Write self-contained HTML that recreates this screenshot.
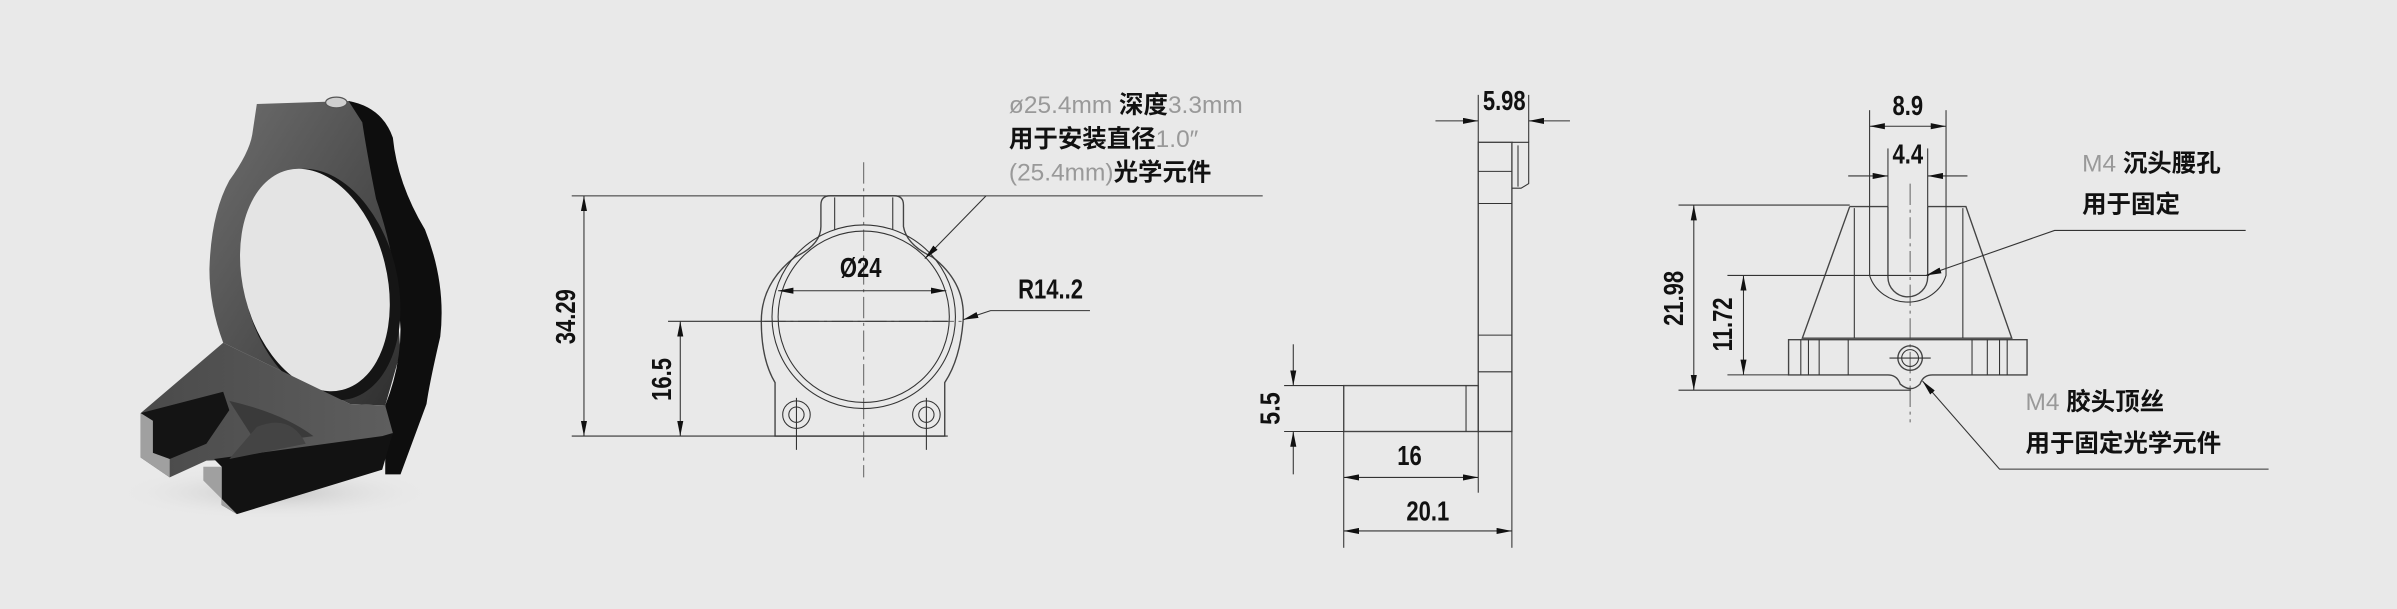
<!DOCTYPE html>
<html><head><meta charset="utf-8"><style>
html,body{margin:0;padding:0;background:#e9e9e9;}
svg{display:block}
.l{stroke:#333;stroke-width:0.7;fill:none}
.t{stroke:#444;stroke-width:0.9;fill:none}
.c{stroke:#555;stroke-width:0.6;fill:none;stroke-dasharray:14 3 2 3}
.d{font-family:"Liberation Sans Narrow","Liberation Sans",sans-serif;font-size:18px;fill:#111;font-weight:bold}
.z{font-family:"Liberation Sans","Noto Sans CJK SC",sans-serif;font-size:16px;fill:#111;font-weight:bold}
.g{fill:#999;font-weight:normal}
</style></head><body>
<svg width="2397" height="609" viewBox="0 0 1568 398" preserveAspectRatio="none" xmlns="http://www.w3.org/2000/svg">
<defs>
<marker id="a" viewBox="0 0 10 4" refX="10" refY="2" markerWidth="10" markerHeight="4" orient="auto-start-reverse" markerUnits="userSpaceOnUse"><path d="M0,0L10,2L0,4z" fill="#111"/></marker>
<radialGradient id="sh" cx="0.5" cy="0.5" r="0.5"><stop offset="0" stop-color="#c4c4c4"/><stop offset="1" stop-color="#e9e9e9" stop-opacity="0"/></radialGradient>
<linearGradient id="face" x1="0" y1="0" x2="1" y2="1"><stop offset="0" stop-color="#6e6e6e"/><stop offset="0.6" stop-color="#4a4a4a"/><stop offset="1" stop-color="#2e2e2e"/></linearGradient>
<linearGradient id="top" x1="0" y1="0" x2="1" y2="0"><stop offset="0" stop-color="#4a4a4a"/><stop offset="1" stop-color="#5e5e5e"/></linearGradient>
</defs>
<rect width="1568" height="398" fill="#e9e9e9"/>

<!-- photo -->
<ellipse cx="180" cy="322" rx="105" ry="18" fill="url(#sh)"/>
<path d="M168,68 L228,66 Q238,68 240,80 L256,150 L262,230 L252,265 L229,264 L146,224 Q137,200 137,176 Q138,140 150,118 Q163,100 165,88 Z" fill="url(#face)"/>
<path d="M228,66 Q250,70 257,90 Q260,120 278,150 Q292,185 288,220 Q281,250 279,264 L262,310 L252,310 L252,265 Q262,240 262,215 Q260,170 246,130 Q240,100 237,80 Z" fill="#0e0e0e"/>
<ellipse cx="210" cy="186" rx="50" ry="77" transform="rotate(-14 210 186)" fill="#151515"/>
<ellipse cx="206" cy="183" rx="47" ry="74" transform="rotate(-14 206 183)" fill="#e4e4e4"/>
<ellipse cx="220" cy="67" rx="7" ry="3.5" fill="#cfcfcf" stroke="#555" stroke-width="0.8"/>
<path d="M146,224 L229,264 L252,265 L257,283 L250,300 L168,300 L135,301 L111,312 L92,299 L92,270 Z" fill="url(#top)"/>
<path d="M150,262 Q185,270 205,285 L168,290 Z" fill="#3a3a3a"/>
<path d="M92,270 L146,256 L150,268 L135,290 L111,300 L100,296 L100,275 Z" fill="#141414"/>
<path d="M92,270 L100,275 L100,296 L111,300 L111,312 L92,299 Z" fill="#a0a0a0"/>
<path d="M140,300 L250,285 L257,283 L250,307 L155,336 L145,330 L145,305 Z" fill="#121212"/>
<path d="M133,305 L145,305 L145,330 L155,336 L133,314 Z" fill="#a0a0a0"/>
<path d="M168,279 Q190,270 200,290 L150,300 Z" fill="#444"/>

<!-- front view -->
<line class="c" x1="565" y1="106" x2="565" y2="312"/>
<line class="c" x1="500" y1="210" x2="630" y2="210"/>
<path class="t" d="M537,134 Q537,128 543,128 L585,128 Q591,128 591,134 L591,148 Q593,160 610,168 Q632,185 630,210 Q628,235 618,250 L618,285 L507,285 L507,250 Q498,235 498,210 Q498,185 520,168 Q537,160 537,148 Z"/>
<line class="l" x1="546" y1="129" x2="546" y2="150"/><line class="l" x1="584" y1="129" x2="584" y2="150"/>
<circle class="l" cx="565" cy="207" r="60"/>
<circle class="l" cx="565" cy="207" r="56"/>
<circle class="l" cx="521" cy="271" r="9"/><circle class="l" cx="521" cy="271" r="5"/>
<circle class="l" cx="606" cy="271" r="9"/><circle class="l" cx="606" cy="271" r="5"/>
<line class="l" x1="521" y1="260" x2="521" y2="294"/><line class="l" x1="606" y1="260" x2="606" y2="294"/>
<line class="l" x1="374" y1="128" x2="826" y2="128"/>
<line class="l" x1="374" y1="285" x2="620" y2="285"/>
<line class="l" x1="437" y1="210" x2="620" y2="210"/>
<line class="l" x1="382" y1="128" x2="382" y2="285" marker-start="url(#a)" marker-end="url(#a)"/>
<line class="l" x1="445" y1="210" x2="445" y2="285" marker-start="url(#a)" marker-end="url(#a)"/>
<line class="l" x1="509" y1="190" x2="619" y2="190" marker-start="url(#a)" marker-end="url(#a)"/>
<line class="l" x1="645" y1="128" x2="605" y2="169" marker-end="url(#a)"/>
<polyline class="l" points="713,203 648,203 630,209" marker-end="url(#a)"/>
<g transform="translate(563,181) scale(0.8,1)"><text class="d" text-anchor="middle">Ø24</text></g>
<g transform="translate(666,195) scale(0.8,1)"><text class="d">R14..2</text></g>
<g transform="translate(376,207) rotate(-90) scale(0.8,1)"><text class="d" text-anchor="middle">34.29</text></g>
<g transform="translate(439,248) rotate(-90) scale(0.8,1)"><text class="d" text-anchor="middle">16.5</text></g>
<text class="z" x="660" y="74"><tspan class="g">ø25.4mm</tspan>  深度<tspan class="g">3.3mm</tspan></text>
<text class="z" x="660" y="96">用于安装直径<tspan class="g">1.0″</tspan></text>
<text class="z" x="660" y="118"><tspan class="g">(25.4mm)</tspan>光学元件</text>

<!-- side view -->
<rect class="t" x="967" y="93" width="22" height="189"/>
<path class="l" d="M989,93 L1000,93 L1000,120 L995,123 L989,123"/>
<line class="l" x1="993" y1="95" x2="993" y2="122"/>
<line class="l" x1="967" y1="112" x2="989" y2="112"/><line class="l" x1="967" y1="133" x2="989" y2="133"/>
<line class="l" x1="967" y1="219" x2="989" y2="219"/><line class="l" x1="967" y1="243" x2="989" y2="243"/>
<rect class="t" x="879" y="252" width="88" height="30"/>
<line class="l" x1="959" y1="252" x2="959" y2="282"/>
<line class="l" x1="967" y1="62" x2="967" y2="93"/><line class="l" x1="1000" y1="62" x2="1000" y2="93"/>
<line class="l" x1="939" y1="79" x2="967" y2="79" marker-end="url(#a)"/>
<line class="l" x1="1027" y1="79" x2="1000" y2="79" marker-end="url(#a)"/>
<g transform="translate(984,72) scale(0.8,1)"><text class="d" text-anchor="middle">5.98</text></g>
<line class="l" x1="840" y1="252" x2="879" y2="252"/><line class="l" x1="840" y1="282" x2="879" y2="282"/>
<line class="l" x1="846" y1="225" x2="846" y2="252" marker-end="url(#a)"/>
<line class="l" x1="846" y1="310" x2="846" y2="282" marker-end="url(#a)"/>
<g transform="translate(837,267) rotate(-90) scale(0.85,1)"><text class="d" text-anchor="middle">5.5</text></g>
<line class="l" x1="879" y1="282" x2="879" y2="358"/>
<line class="l" x1="967" y1="282" x2="967" y2="322"/>
<line class="l" x1="989" y1="282" x2="989" y2="358"/>
<line class="l" x1="879" y1="312" x2="967" y2="312" marker-start="url(#a)" marker-end="url(#a)"/>
<line class="l" x1="879" y1="347" x2="989" y2="347" marker-start="url(#a)" marker-end="url(#a)"/>
<g transform="translate(922,304) scale(0.8,1)"><text class="d" text-anchor="middle">16</text></g>
<g transform="translate(934,340) scale(0.8,1)"><text class="d" text-anchor="middle">20.1</text></g>

<!-- right view -->
<line class="c" x1="1249.5" y1="120" x2="1249.5" y2="276"/>
<path class="t" d="M1210,135 L1235,135 M1261,135 L1286,135 L1316,221 L1179,221 L1210,135"/>
<line class="l" x1="1213" y1="136" x2="1213" y2="221"/><line class="l" x1="1284" y1="136" x2="1284" y2="221"/>
<path class="t" d="M1235,135 L1235,181 A13,13 0 0 0 1261,181 L1261,135"/>
<path class="l" d="M1223,135 L1223,180 A26,24 0 0 0 1273,180 L1273,135"/>
<path class="t" d="M1170,222 L1326,222 L1326,245 L1264,245 Q1258,245 1256,251 Q1250,257 1243,251 Q1241,245 1235,245 L1170,245 Z"/>
<line class="l" x1="1178" y1="222" x2="1178" y2="245"/><line class="l" x1="1183" y1="222" x2="1183" y2="245"/>
<line class="l" x1="1190" y1="222" x2="1190" y2="245"/><line class="l" x1="1308" y1="222" x2="1308" y2="245"/>
<line class="l" x1="1313" y1="222" x2="1313" y2="245"/><line class="l" x1="1300" y1="222" x2="1300" y2="245"/>
<line class="l" x1="1209" y1="222" x2="1209" y2="245"/><line class="l" x1="1290" y1="222" x2="1290" y2="245"/>
<circle class="t" cx="1249.5" cy="234" r="8"/><circle class="l" cx="1249.5" cy="234" r="5.5"/>
<line class="l" x1="1236" y1="234" x2="1263" y2="234"/>
<line class="l" x1="1223" y1="72" x2="1223" y2="135"/><line class="l" x1="1273" y1="72" x2="1273" y2="135"/>
<line class="l" x1="1235" y1="97" x2="1235" y2="135"/><line class="l" x1="1261" y1="97" x2="1261" y2="135"/>
<line class="l" x1="1223" y1="82.5" x2="1273" y2="82.5" marker-start="url(#a)" marker-end="url(#a)"/>
<line class="l" x1="1209" y1="115" x2="1235" y2="115" marker-end="url(#a)"/>
<line class="l" x1="1287" y1="115" x2="1261" y2="115" marker-end="url(#a)"/>
<g transform="translate(1248,75) scale(0.8,1)"><text class="d" text-anchor="middle">8.9</text></g>
<g transform="translate(1248,107) scale(0.8,1)"><text class="d" text-anchor="middle">4.4</text></g>
<line class="l" x1="1098" y1="134" x2="1210" y2="134"/>
<line class="l" x1="1098" y1="255" x2="1250" y2="255"/>
<line class="l" x1="1130" y1="180" x2="1262" y2="180"/>
<line class="l" x1="1130" y1="245" x2="1170" y2="245"/>
<line class="l" x1="1108" y1="134" x2="1108" y2="255" marker-start="url(#a)" marker-end="url(#a)"/>
<line class="l" x1="1140.5" y1="180" x2="1140.5" y2="245" marker-start="url(#a)" marker-end="url(#a)"/>
<g transform="translate(1101,195) rotate(-90) scale(0.8,1)"><text class="d" text-anchor="middle">21.98</text></g>
<g transform="translate(1133,212) rotate(-90) scale(0.8,1)"><text class="d" text-anchor="middle">11.72</text></g>
<polyline class="l" points="1469,150.6 1344,150.6 1260,180" marker-end="url(#a)"/>
<polyline class="l" points="1484,306.6 1308,306.6 1257.6,249" marker-end="url(#a)"/>
<text class="z" x="1362" y="112" font-size="17"><tspan class="g">M4</tspan> 沉头腰孔</text>
<text class="z" x="1362" y="139" font-size="17">用于固定</text>
<text class="z" x="1325" y="268" font-size="17"><tspan class="g">M4</tspan> 胶头顶丝</text>
<text class="z" x="1325" y="295" font-size="17">用于固定光学元件</text>
</svg>
</body></html>
